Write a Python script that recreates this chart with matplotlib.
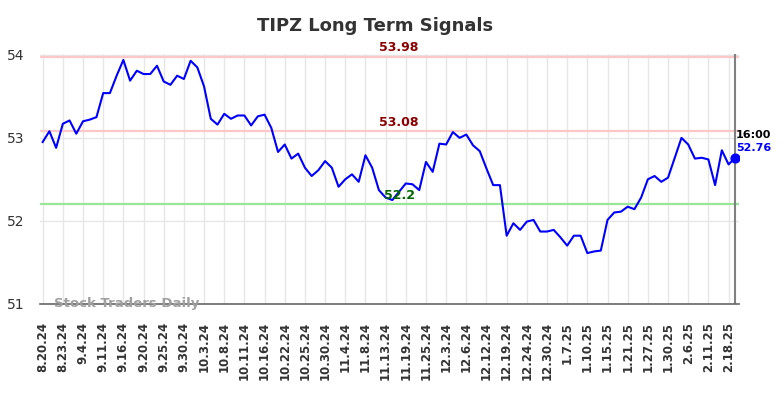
import matplotlib
matplotlib.use('Agg')
from matplotlib import pyplot as plt

# closing values, one every few trading days
prices = [52.95, 53.08, 52.88, 53.17, 53.21, 53.05, 53.20, 53.22, 53.25, 53.54,
          53.54, 53.75, 53.94, 53.69, 53.81, 53.77, 53.77, 53.87, 53.68, 53.64,
          53.75, 53.71, 53.93, 53.85, 53.62, 53.23, 53.16, 53.29, 53.23, 53.27,
          53.27, 53.15, 53.26, 53.28, 53.12, 52.83, 52.92, 52.75, 52.81, 52.64,
          52.54, 52.61, 52.72, 52.64, 52.41, 52.50, 52.56, 52.47, 52.79, 52.64,
          52.37, 52.28, 52.25, 52.35, 52.45, 52.44, 52.37, 52.71, 52.59, 52.93,
          52.92, 53.07, 53.00, 53.04, 52.91, 52.84, 52.63, 52.43, 52.43, 51.82,
          51.97, 51.89, 51.99, 52.01, 51.87, 51.87, 51.89, 51.80, 51.70, 51.82,
          51.82, 51.61, 51.63, 51.64, 52.01, 52.10, 52.11, 52.17, 52.14, 52.28,
          52.50, 52.54, 52.47, 52.52, 52.76, 53.00, 52.92, 52.75, 52.76, 52.74,
          52.43, 52.85, 52.68, 52.76]
tick_labels = ['8.20.24', '8.23.24', '9.4.24', '9.11.24', '9.16.24', '9.20.24', '9.25.24',
               '9.30.24', '10.3.24', '10.8.24', '10.11.24', '10.16.24', '10.22.24', '10.25.24',
               '10.30.24', '11.4.24', '11.8.24', '11.13.24', '11.19.24', '11.25.24', '12.3.24',
               '12.6.24', '12.12.24', '12.19.24', '12.24.24', '12.30.24', '1.7.25', '1.10.25',
               '1.15.25', '1.21.25', '1.27.25', '1.30.25', '2.6.25', '2.11.25', '2.18.25']
resistance = [53.98, 53.08]
support = [52.2]
last_time = '16:00'
last_price = 52.76

fig = plt.figure(figsize=(7.84, 3.98), dpi=100)
ax = fig.add_axes([0.051, 0.237, 0.892, 0.627])

x = list(range(len(prices)))
ax.plot(x, prices, color='#0000ff', lw=1.5, zorder=3)
ax.scatter([x[-1]], [last_price], s=40, color='#0000ff', zorder=4)

mid = len(prices) // 2 + 1
for r in resistance:
    ax.axhline(r, color='#ffc8c8', lw=1.6, zorder=2)
    ax.text(mid, r + 0.03, str(r), color='#8b0000', fontsize=9, fontweight='bold',
            ha='center', va='bottom')
for s in support:
    ax.axhline(s, color='#99e699', lw=1.6, zorder=2)
    ax.text(mid, s + 0.03, str(s), color='#006400', fontsize=9, fontweight='bold',
            ha='center', va='bottom')

ax.axvline(x[-1], color='#808080', lw=1.5, zorder=2)
ax.text(x[-1] + 0.1, last_price + 0.22, last_time, color='black', fontsize=8,
        fontweight='bold', ha='left', va='bottom')
ax.text(x[-1] + 0.1, last_price + 0.06, str(last_price), color='#0000ff', fontsize=8,
        fontweight='bold', ha='left', va='bottom')

ax.text(1.7, 51.0, 'Stock Traders Daily', color='#a0a0a0', fontsize=9.5,
        fontweight='bold', ha='left', va='center', zorder=5)

ax.set_xlim(-0.4, 103.6)
ax.set_ylim(51, 54.01)
ax.set_yticks([51, 52, 53, 54])
ax.set_xticks(x[::3])
ax.set_xticklabels(tick_labels, rotation=90, fontsize=8.5, fontweight='bold', color='#333333')
ax.tick_params(axis='y', length=0, pad=11, labelsize=10, labelcolor='#333333')
ax.tick_params(axis='x', length=0, pad=13)
ax.grid(True, color='#e6e6e6', lw=1)
ax.set_axisbelow(True)
for side in ['top', 'right', 'left']:
    ax.spines[side].set_visible(False)
ax.spines['bottom'].set_color('#666666')
ax.spines['bottom'].set_linewidth(1.2)

fig.text(0.478, 0.935, 'TIPZ Long Term Signals', ha='center', va='center',
         fontsize=13, fontweight='bold', color='#333333')

fig.savefig('out.png', dpi=100)
